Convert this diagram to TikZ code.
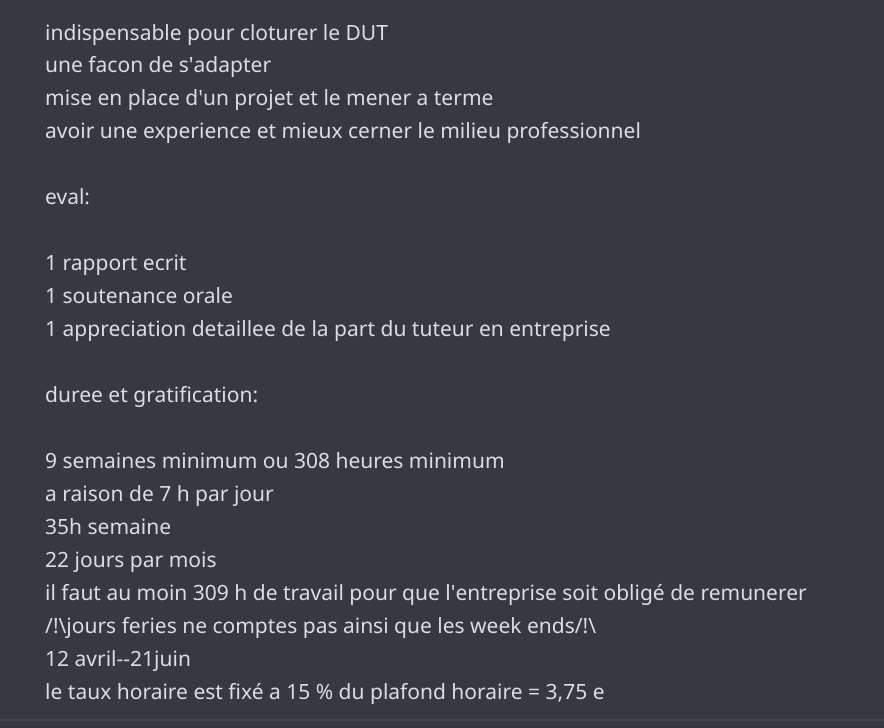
\documentclass[tikz,border=0pt]{standalone}
\usepackage{fontspec}
\setmainfont{Noto Sans}
\definecolor{bg}{HTML}{36393F}
\definecolor{fg}{HTML}{DCDDDE}
\definecolor{rulec}{HTML}{43464D}
\begin{document}
\begin{tikzpicture}[x=1pt,y=-1pt,
  txt/.style={anchor=base west, inner sep=0pt, text=fg, font=\fontsize{21}{26}\selectfont}]
\fill[bg] (0,0) rectangle (884,728);
\useasboundingbox (0,0) rectangle (884,728);
\draw[rulec, line width=1.5pt] (0,720) -- (884,720);
\node[txt] (l0) at (45,40.0) {indispensable pour cloturer le DUT};
\node[txt] (l1) at (45,72.95) {une facon de s\textquotesingle adapter};
\node[txt] (l2) at (45,105.9) {mise en place d\textquotesingle un projet et le mener a terme};
\node[txt] (l3) at (45,138.85) {avoir une experience et mieux cerner le milieu professionnel};
\node[txt] (l5) at (45,204.75) {eval:};
\node[txt] (l7) at (45,270.65) {1 rapport ecrit};
\node[txt] (l8) at (45,303.6) {1 soutenance orale};
\node[txt] (l9) at (45,336.55) {1 appreciation detaillee de la part du tuteur en entreprise};
\node[txt] (l11) at (45,402.45) {duree et gratification:};
\node[txt] (l13) at (45,468.35) {9 semaines minimum ou 308 heures minimum};
\node[txt] (l14) at (45,501.3) {a raison de 7 h par jour};
\node[txt] (l15) at (45,534.25) {35h semaine};
\node[txt] (l16) at (45,567.2) {22 jours par mois};
\node[txt] (l17) at (45,600.15) {il faut au moin 309 h de travail pour que l\textquotesingle entreprise soit obligé de remunerer};
\node[txt] (l18) at (45,633.1) {/!\textbackslash jours feries ne comptes pas ainsi que les week ends/!\textbackslash};
\node[txt] (l19) at (45,666.05) {12 avril-{}-21juin};
\node[txt] (l20) at (45,699.0) {le taux horaire est fixé a 15 \% du plafond horaire = 3,75 e};
\end{tikzpicture}
\end{document}
